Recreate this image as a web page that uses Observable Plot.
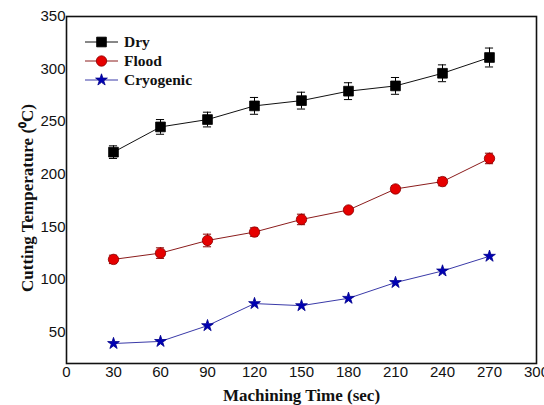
<!DOCTYPE html>
<html>
<head>
<meta charset="utf-8">
<script src="https://cdn.jsdelivr.net/npm/d3@7"></script>
<script src="https://cdn.jsdelivr.net/npm/@observablehq/plot@0.6"></script>
<style>
  html, body { margin: 0; padding: 0; background: #fff; }
  #wrap { position: relative; width: 544px; height: 405px; }
  #wrap svg { position: absolute; left: 0; top: 0; }
</style>
</head>
<body>
<div id="wrap"></div>
<script>
// ---- data ----
const times = [30, 60, 90, 120, 150, 180, 210, 240, 270];
const dry = [221, 245, 252, 265, 270, 279, 284, 296, 311];
const dryErr = [6, 7, 7, 8, 8, 8, 8, 8, 9];
const flood = [119, 125, 137, 145, 157, 166, 186, 193, 215];
const floodErr = [4, 5, 6, 4, 5, 2, 3, 4, 5];
const cryo = [39, 41, 56, 77, 75, 82, 97, 108, 122];
const seriesNames = ["Dry", "Flood", "Cryogenic"];
const xTicks = [0, 30, 60, 90, 120, 150, 180, 210, 240, 270, 300];
const yTicks = [50, 100, 150, 200, 250, 300, 350];
const xLabel = "Machining Time (sec)";
const yLabel = "Cutting Temperature (⁰C)";

const styles = {
  Dry: {line: "#111", fill: "#000", stroke: "#000", symbol: "square", r: 5.5},
  Flood: {line: "#8b1c1c", fill: "#e60000", stroke: "#8b0000", symbol: "circle", r: 5.2},
  Cryogenic: {line: "#3a3aa8", fill: "#0000b4", stroke: "#00008b", symbol: "star", r: 3.7}
};

const rows = [];
const vals = {Dry: dry, Flood: flood, Cryogenic: cryo};
const errs = {Dry: dryErr, Flood: floodErr, Cryogenic: null};
for (const s of seriesNames) {
  times.forEach((t, i) => rows.push({series: s, t, v: vals[s][i], e: errs[s] ? errs[s][i] : 0}));
}
const errRows = rows.filter(d => d.e > 0);

const serif = "'Liberation Serif', 'Times New Roman', serif";
const sans = "'Liberation Sans', Arial, sans-serif";

const marks = [];
for (const s of seriesNames) {
  const st = styles[s];
  const data = rows.filter(d => d.series === s);
  marks.push(Plot.line(data, {x: "t", y: "v", stroke: st.line, strokeWidth: 1}));
  const ed = errRows.filter(d => d.series === s);
  if (ed.length) {
    marks.push(Plot.ruleX(ed, {x: "t", y1: d => d.v - d.e, y2: d => d.v + d.e, stroke: st.stroke, strokeWidth: 1}));
    marks.push(Plot.ruleY(ed, {y: d => d.v + d.e, x1: d => d.t - 2.6, x2: d => d.t + 2.6, stroke: st.stroke, strokeWidth: 1}));
    marks.push(Plot.ruleY(ed, {y: d => d.v - d.e, x1: d => d.t - 2.6, x2: d => d.t + 2.6, stroke: st.stroke, strokeWidth: 1}));
  }
  marks.push(Plot.dot(data, {x: "t", y: "v", symbol: () => st.symbol, r: st.r, fill: st.fill, stroke: st.stroke, strokeWidth: 0.8}));
}

const chart = Plot.plot({
  width: 544,
  height: 405,
  marginLeft: 66,
  marginRight: 8,
  marginTop: 16,
  marginBottom: 42,
  style: {background: "transparent", fontFamily: sans, fontSize: "15px", color: "#111"},
  x: {domain: [0, 300], ticks: xTicks, label: null},
  y: {domain: [20, 350], ticks: yTicks, label: null},
  marks: [
    Plot.axisX({ticks: xTicks, tickSize: 0, tickPadding: 3, label: null, fontSize: 15}),
    Plot.axisY({ticks: yTicks, tickSize: 0, tickPadding: 1, label: null, fontSize: 15}),
    ...marks,
    Plot.frame({stroke: "#111", strokeWidth: 1.6}),
    Plot.text([xLabel], {frameAnchor: "bottom", dy: 32, text: d => d, fontFamily: serif, fontWeight: "bold", fontSize: 17, fill: "#111", lineAnchor: "middle", textAnchor: "middle"}),
    Plot.text([yLabel], {frameAnchor: "left", dx: -39, dy: 8, rotate: -90, text: d => d, fontFamily: serif, fontWeight: "bold", fontSize: 17, fill: "#111", lineAnchor: "middle", textAnchor: "middle"})
  ]
});
document.getElementById("wrap").appendChild(chart);

// ---- legend overlay ----
const leg = d3.select("#wrap").append("svg").attr("width", 544).attr("height", 405).style("pointer-events", "none");
const legX0 = 85, legX1 = 118, legY0 = 42, legStep = 19;
seriesNames.forEach((s, i) => {
  const st = styles[s];
  const y = legY0 + i * legStep;
  leg.append("line").attr("x1", legX0).attr("x2", legX1).attr("y1", y).attr("y2", y)
    .attr("stroke", st.line).attr("stroke-width", 1);
  const sym = {square: d3.symbolSquare, circle: d3.symbolCircle, star: d3.symbolStar}[st.symbol];
  leg.append("path").attr("d", d3.symbol(sym, st.r * st.r * Math.PI)())
    .attr("transform", `translate(${(legX0 + legX1) / 2},${y})`)
    .attr("fill", st.fill).attr("stroke", st.stroke).attr("stroke-width", 0.8);
  leg.append("text").attr("x", legX1 + 6).attr("y", y).attr("dy", "0.35em")
    .attr("font-family", serif).attr("font-weight", "bold").attr("font-size", 15.5)
    .attr("fill", "#111").text(s);
});
</script>
</body>
</html>
